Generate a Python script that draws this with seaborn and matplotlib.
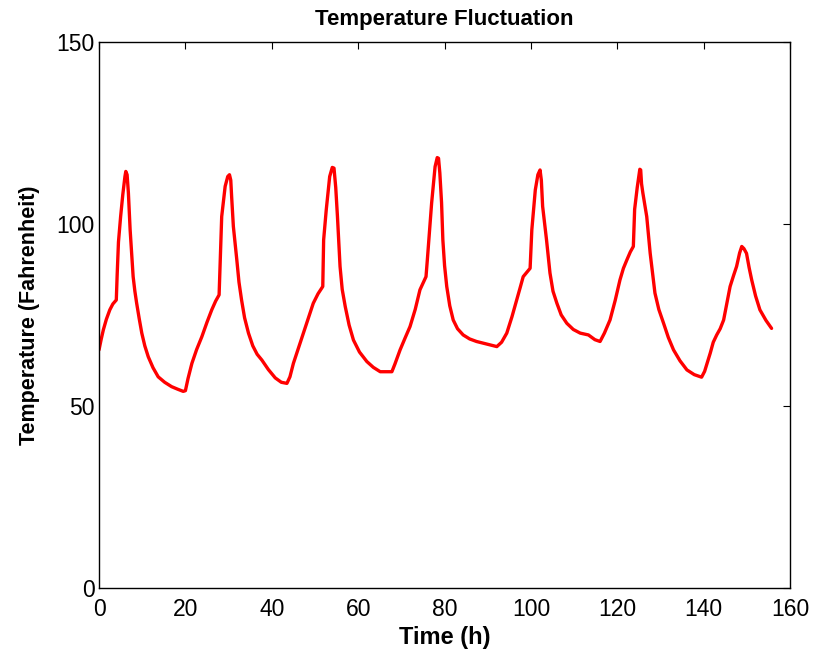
import matplotlib
matplotlib.use('Agg')
import matplotlib.pyplot as plt
import seaborn as sns
import pandas as pd

# values (hours, degrees F)
time_h = [0, 0.5, 1.0, 1.7, 2.5, 3.2, 4.0, 4.2, 4.5, 5.0,
          5.5, 6.0, 6.2, 6.5, 6.8, 7.2, 7.6, 7.9, 8.3, 8.7,
          9.3, 9.9, 10.6, 11.4, 12.5, 13.7, 15.2, 16.8, 18.2, 19.5,
          20.0, 20.6, 21.5, 22.6, 23.8, 25.0, 26.1, 27.0, 27.8, 28.0,
          28.4, 29.2, 29.8, 30.2, 30.5, 30.7, 31.1, 31.9, 32.4, 33.0,
          33.7, 34.6, 35.6, 36.6, 37.7, 39.2, 40.8, 42.2, 43.5, 44.2,
          45.0, 46.2, 47.3, 48.5, 49.6, 50.7, 51.8, 52.0, 52.6, 53.4,
          54.0, 54.4, 54.8, 55.2, 55.8, 56.3, 57.0, 57.9, 58.9, 60.3,
          62.0, 63.5, 65.1, 67.8, 68.5, 69.7, 70.8, 72.0, 73.2, 74.3,
          75.7, 76.0, 77.0, 77.8, 78.3, 78.6, 78.9, 79.3, 79.6, 80.0,
          80.5, 81.2, 82.0, 83.0, 84.3, 85.8, 87.4, 89.8, 92.1, 93.2,
          94.4, 95.6, 96.7, 97.5, 98.2, 99.8, 100.2, 101.0, 101.6, 102.1,
          102.4, 102.7, 103.6, 104.4, 105.1, 106.0, 107.0, 108.3, 109.8, 111.4,
          113.3, 114.8, 116.0, 117.0, 118.3, 119.5, 120.6, 121.4, 122.2, 123.0,
          123.7, 124.0, 124.6, 125.2, 125.4, 125.6, 125.9, 126.8, 127.6, 128.7,
          129.6, 130.7, 131.8, 133.0, 134.5, 136.1, 137.8, 139.5, 140.2, 141.5,
          142.2, 143.0, 143.8, 144.6, 145.4, 146.1, 146.9, 147.6, 148.3, 148.8,
          149.3, 149.9, 150.5, 151.1, 152.0, 153.0, 154.4, 155.7]
temp_f = [65.4, 68.3, 70.9, 73.8, 76.4, 78.0, 79.1, 86, 95, 102,
          108, 113, 114.4, 113.5, 108.5, 98.4, 91, 85.5, 81.5, 78.3,
          74, 70, 66.5, 63.5, 60.5, 58, 56.5, 55.3, 54.6, 54.0,
          54.2, 57.5, 61.7, 65.5, 69.0, 73, 76.4, 78.8, 80.5, 87.4,
          102, 110.3, 113, 113.5, 112, 107.5, 99.3, 90.1, 84, 79.1,
          74.2, 70.0, 66.5, 64.2, 62.6, 60, 57.7, 56.5, 56.2, 58,
          61.7, 66, 70.0, 74.3, 78.2, 80.8, 82.8, 95.6, 103.8, 113,
          115.5, 115.3, 110, 102, 88.3, 82, 77.3, 72.2, 68.1, 64.8,
          62.2, 60.6, 59.4, 59.4, 61.5, 65.4, 68.5, 71.8, 76.5, 81.9,
          85.5, 90, 105.7, 115.7, 118.2, 118, 114, 105.8, 95.6, 88.5,
          82.8, 77.5, 73.6, 71.2, 69.5, 68.4, 67.7, 67, 66.3, 67.5,
          70.0, 74.5, 79.1, 82.5, 85.5, 87.8, 98.4, 109.3, 113.5, 114.8,
          112, 104.8, 95.6, 86.5, 81.5, 78.2, 75, 72.7, 71, 70.0,
          69.5, 68.2, 67.7, 70, 73.6, 79, 84.6, 87.8, 90.1, 92.3,
          93.8, 104, 110, 115, 114.8, 111, 108.5, 102, 91.9, 81,
          76.5, 72.7, 68.8, 65.4, 62.4, 59.9, 58.6, 57.9, 59.5, 64.5,
          67.5, 69.5, 71.2, 73.6, 78.5, 82.8, 85.8, 88.3, 92, 93.8,
          93.2, 91.9, 88, 84.6, 80.2, 76.4, 73.5, 71.3]

x_ticks = [0, 20, 40, 60, 80, 100, 120, 140, 160]
y_ticks = [0, 50, 100, 150]

df = pd.DataFrame({'Time': time_h, 'Temperature': temp_f})

sns.set_style('white')
plt.rcParams['font.family'] = ['Liberation Sans', 'DejaVu Sans']
plt.rcParams['text.color'] = 'black'
plt.rcParams['axes.labelcolor'] = 'black'
plt.rcParams['xtick.color'] = 'black'
plt.rcParams['ytick.color'] = 'black'

fig = plt.figure(figsize=(8.15, 6.53), dpi=100)
ax = fig.add_axes([0.1215, 0.0995, 0.848, 0.8365])

sns.lineplot(data=df, x='Time', y='Temperature', color='#ff0000', lw=2.4, sort=False, estimator=None, ax=ax)

ax.set_xlim(0, 160)
ax.set_ylim(0, 150)
ax.set_xticks(x_ticks)
ax.set_yticks(y_ticks)
ax.tick_params(direction='in', length=5, width=0.8, labelsize=16.5, top=True, right=True, pad=3)
ax.tick_params(axis='x', pad=7)
for s in ax.spines.values():
    s.set_color('black')
    s.set_linewidth(1.0)

ax.set_title('Temperature Fluctuation', fontsize=16, fontweight='bold', pad=12)
ax.set_xlabel('Time (h)', fontsize=17, fontweight='bold', labelpad=4)
ax.set_ylabel('Temperature (Fahrenheit)', fontsize=15.5, fontweight='bold', labelpad=12)

fig.savefig('out.png', dpi=100)
